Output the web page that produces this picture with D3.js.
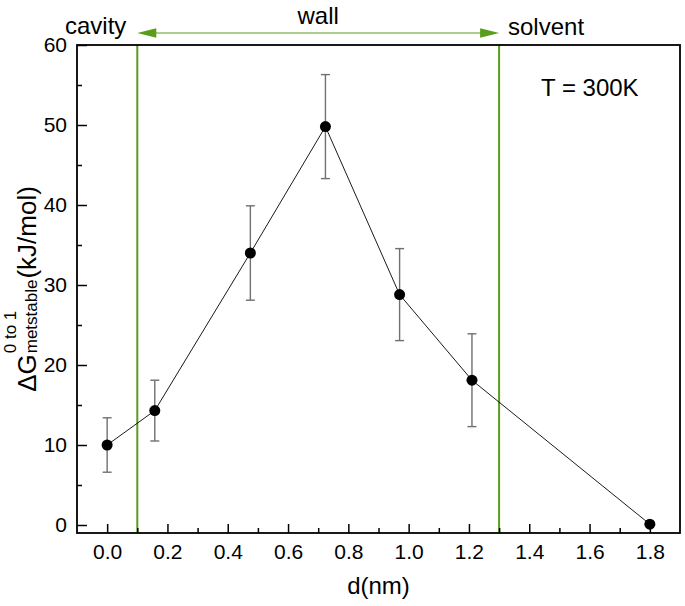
<!DOCTYPE html>
<html><head><meta charset="utf-8">
<script src="https://cdn.jsdelivr.net/npm/d3@7/dist/d3.min.js"></script>
<style>
html,body{margin:0;padding:0;background:#fff;}
text{font-family:"Liberation Sans",Arial,sans-serif;fill:#000;}
</style></head>
<body>
<svg id="chart" width="685" height="606"></svg>
<script>
// ---- data ----
const dValues   = [0.0, 0.158, 0.475, 0.724, 0.97, 1.21, 1.8];
const gValues   = [10.0, 14.3, 34.0, 49.8, 28.8, 18.1, 0.1];
const gErrors   = [3.4, 3.8, 5.9, 6.5, 5.75, 5.8, 0];
const xTicks    = [0.0, 0.2, 0.4, 0.6, 0.8, 1.0, 1.2, 1.4, 1.6, 1.8];
const xMinor    = [0.1, 0.3, 0.5, 0.7, 0.9, 1.1, 1.3, 1.5, 1.7];
const yTicks    = [0, 10, 20, 30, 40, 50, 60];
const yMinor    = [5, 15, 25, 35, 45, 55];
const regionBounds = [0.1, 1.3];
const regionLabels = ["cavity", "wall", "solvent"];
const tempLabel = "T = 300K";

const svg = d3.select("#chart");
const L = 77, R = 680, T = 45, B = 533;
const x = d3.scaleLinear().domain([-0.1, 1.9]).range([L, R]);
const y = d3.scaleLinear().domain([-1, 60]).range([B, T]);
const green = "#5a9c1c";
const FF = "Liberation Sans, Arial, sans-serif";

// region lines
svg.selectAll("line.region").data(regionBounds).enter().append("line")
  .attr("x1", d => x(d)).attr("x2", d => x(d)).attr("y1", T).attr("y2", B)
  .attr("stroke", green).attr("stroke-width", 2);

// axes (ticks inward)
const xAxis = d3.axisBottom(x).tickValues(xTicks).tickFormat(d3.format(".1f"))
  .tickSizeInner(-9).tickSizeOuter(0).tickPadding(11);
const gx = svg.append("g").attr("transform", `translate(0,${B})`).call(xAxis);
gx.select(".domain").remove();
gx.selectAll(".tick line").attr("stroke", "#000").attr("stroke-width", 1.5);
gx.selectAll(".tick text").attr("font-size", 21).attr("font-family", FF);
const gxm = svg.append("g").attr("transform", `translate(0,${B})`)
  .call(d3.axisBottom(x).tickValues(xMinor).tickSizeInner(-5).tickSizeOuter(0).tickFormat(""));
gxm.select(".domain").remove();
gxm.selectAll(".tick line").attr("stroke", "#000").attr("stroke-width", 1.5);

const yAxis = d3.axisLeft(y).tickValues(yTicks).tickSizeInner(-10).tickSizeOuter(0).tickPadding(10);
const gy = svg.append("g").attr("transform", `translate(${L},0)`).call(yAxis);
gy.select(".domain").remove();
gy.selectAll(".tick line").attr("stroke", "#000").attr("stroke-width", 1.5);
gy.selectAll(".tick text").attr("font-size", 21).attr("font-family", FF);
const gym = svg.append("g").attr("transform", `translate(${L},0)`)
  .call(d3.axisLeft(y).tickValues(yMinor).tickSizeInner(-5).tickSizeOuter(0).tickFormat(""));
gym.select(".domain").remove();
gym.selectAll(".tick line").attr("stroke", "#000").attr("stroke-width", 1.5);

// frame
svg.append("rect").attr("x", L).attr("y", T).attr("width", R - L).attr("height", B - T)
  .attr("fill", "none").attr("stroke", "#000").attr("stroke-width", 1.8);

const pts = dValues.map((d, i) => ({d, g: gValues[i], e: gErrors[i]}));

// error bars
const eb = svg.append("g").attr("stroke", "#707070").attr("stroke-width", 1.4);
pts.filter(p => p.e > 0).forEach(p => {
  eb.append("line").attr("x1", x(p.d)).attr("x2", x(p.d)).attr("y1", y(p.g - p.e)).attr("y2", y(p.g + p.e));
  [p.g - p.e, p.g + p.e].forEach(v => {
    eb.append("line").attr("x1", x(p.d) - 4.5).attr("x2", x(p.d) + 4.5).attr("y1", y(v)).attr("y2", y(v));
  });
});

// line
svg.append("path").datum(pts)
  .attr("d", d3.line().x(p => x(p.d)).y(p => y(p.g)))
  .attr("fill", "none").attr("stroke", "#000").attr("stroke-width", 0.9);

// points
svg.selectAll("circle.pt").data(pts).enter().append("circle")
  .attr("cx", p => x(p.d)).attr("cy", p => y(p.g)).attr("r", 5.5).attr("fill", "#000");

// double arrow
const ay = 33, x1 = x(regionBounds[0]), x2 = x(regionBounds[1]), ah = 19, aw = 4.8;
svg.append("line").attr("x1", x1 + ah - 2).attr("x2", x2 - ah + 2).attr("y1", ay).attr("y2", ay)
  .attr("stroke", green).attr("stroke-width", 1.2);
svg.append("path").attr("d", `M${x1},${ay} L${x1 + ah},${ay - aw} L${x1 + ah},${ay + aw} Z`).attr("fill", green);
svg.append("path").attr("d", `M${x2},${ay} L${x2 - ah},${ay - aw} L${x2 - ah},${ay + aw} Z`).attr("fill", green);

// region labels
svg.append("text").attr("x", 65).attr("y", 34).attr("font-size", 24).text(regionLabels[0]);
svg.append("text").attr("x", (x1 + x2) / 2).attr("y", 24).attr("text-anchor", "middle").attr("font-size", 24).text(regionLabels[1]);
svg.append("text").attr("x", 508).attr("y", 35).attr("font-size", 24).text(regionLabels[2]);

// temperature
svg.append("text").attr("x", 541).attr("y", 96).attr("font-size", 24).text(tempLabel);

// x title
svg.append("text").attr("x", (L + R) / 2).attr("y", 594).attr("text-anchor", "middle").attr("font-size", 24).text("d(nm)");

// y title (composed)
const yt = svg.append("g").attr("transform", `translate(36,${(T + B) / 2}) rotate(-90)`);
const big = 26, small = 17;
const t1 = yt.append("text").attr("font-size", big).text("\u0394G");
const w1 = t1.node().getComputedTextLength();
const tsup = yt.append("text").attr("font-size", small).attr("x", w1 + 1).attr("y", -20).text("0 to 1");
const tsub = yt.append("text").attr("font-size", small).attr("x", w1 + 1).attr("y", 1).text("metstable");
const w2 = Math.max(tsup.node().getComputedTextLength(), tsub.node().getComputedTextLength());
const t3 = yt.append("text").attr("font-size", big).attr("x", w1 + w2 + 2).text("(kJ/mol)");
const total = w1 + w2 + 2 + t3.node().getComputedTextLength();
yt.selectAll("text").attr("dx", -total / 2);
</script>
</body></html>
